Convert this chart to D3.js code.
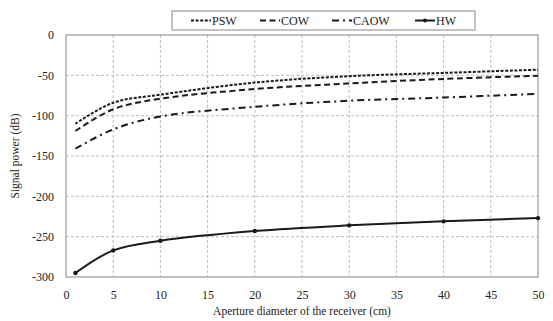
<!DOCTYPE html>
<html>
<head>
<meta charset="utf-8">
<script src="https://d3js.org/d3.v7.min.js"></script>
<style>
  body { margin: 0; background: #fff; }
  text { font-family: "Liberation Serif", "Times New Roman", serif; fill: #222; }
</style>
</head>
<body>
<script>
// Signal power vs. receiver aperture for four wave types
const aperture = [1, 5, 10, 20, 30, 40, 50];
const psw  = [-110, -84, -74, -59, -51, -47, -43];
const cow  = [-119, -92, -79, -67, -60, -54.5, -50.5];
const caow = [-141, -117, -101, -89, -81.5, -77.5, -73];
const hw   = [-295, -267, -255, -243, -236, -231, -227];

const xTicks = [0, 5, 10, 15, 20, 25, 30, 35, 40, 45, 50];
const yTicks = [0, -50, -100, -150, -200, -250, -300];

const width = 553, height = 321;
const margin = { top: 35, right: 15, bottom: 44, left: 66 };

const svg = d3.select("body")
  .append("svg")
  .attr("width", width)
  .attr("height", height);

const x = d3.scaleLinear().domain([0, 50]).range([margin.left, width - margin.right]);
const y = d3.scaleLinear().domain([-300, 0]).range([height - margin.bottom, margin.top]);

// grid
svg.append("g")
  .selectAll("line.v")
  .data(xTicks.slice(1, -1))
  .enter().append("line")
  .attr("x1", d => x(d)).attr("x2", d => x(d))
  .attr("y1", y(0)).attr("y2", y(-300))
  .attr("stroke", "#bbb").attr("stroke-width", 1)
  .attr("stroke-dasharray", "3,2");

svg.append("g")
  .selectAll("line.h")
  .data(yTicks.slice(1, -1))
  .enter().append("line")
  .attr("x1", x(0)).attr("x2", x(50))
  .attr("y1", d => y(d)).attr("y2", d => y(d))
  .attr("stroke", "#bbb").attr("stroke-width", 1)
  .attr("stroke-dasharray", "3,2");

// plot frame
svg.append("rect")
  .attr("x", x(0)).attr("y", y(0))
  .attr("width", x(50) - x(0)).attr("height", y(-300) - y(0))
  .attr("fill", "none").attr("stroke", "#999").attr("stroke-width", 1.2);

// axes
const xAxis = svg.append("g")
  .attr("transform", `translate(0,${y(-300)})`)
  .call(d3.axisBottom(x).tickValues(xTicks).tickSize(0).tickPadding(13));
const yAxis = svg.append("g")
  .attr("transform", `translate(${x(0)},0)`)
  .call(d3.axisLeft(y).tickValues(yTicks).tickSize(0).tickPadding(12)
    .tickFormat(d => d));
[xAxis, yAxis].forEach(g => {
  g.select(".domain").remove();
  g.selectAll("text")
    .style("font-family", "Liberation Serif, serif")
    .style("font-size", "12px")
    .attr("fill", "#222");
});

svg.append("text")
  .attr("x", (x(0) + x(50)) / 2)
  .attr("y", 315)
  .attr("text-anchor", "middle")
  .style("font-size", "11.5px")
  .text("Aperture diameter of the receiver (cm)");

svg.append("text")
  .attr("transform", `translate(19,${(y(0) + y(-300)) / 2}) rotate(-90)`)
  .attr("text-anchor", "middle")
  .style("font-size", "11.5px")
  .text("Signal power (dB)");

// series
const series = [
  { name: "PSW",  values: psw,  dash: "3,1.6" },
  { name: "COW",  values: cow,  dash: "6,3.5" },
  { name: "CAOW", values: caow, dash: "7,4,2,4" },
  { name: "HW",   values: hw,   dash: null }
];

const line = d3.line()
  .x(d => x(d[0]))
  .y(d => y(d[1]))
  .curve(d3.curveCatmullRom.alpha(0.5));

series.forEach(s => {
  svg.append("path")
    .datum(aperture.map((a, i) => [a, s.values[i]]))
    .attr("d", line)
    .attr("fill", "none")
    .attr("stroke", "#1a1a1a")
    .attr("stroke-width", 2)
    .attr("stroke-dasharray", s.dash);
});

svg.append("g")
  .selectAll("circle")
  .data(aperture.map((a, i) => [a, hw[i]]))
  .enter().append("circle")
  .attr("cx", d => x(d[0]))
  .attr("cy", d => y(d[1]))
  .attr("r", 2.2)
  .attr("fill", "#1a1a1a");

// legend
const legend = svg.append("g");
legend.append("rect")
  .attr("x", 172).attr("y", 11)
  .attr("width", 303).attr("height", 19)
  .attr("fill", "#fff").attr("stroke", "#888").attr("stroke-width", 1);

const legendX = [191, 260, 332, 415];
series.forEach((s, i) => {
  const lx = legendX[i];
  legend.append("line")
    .attr("x1", lx).attr("x2", lx + 20)
    .attr("y1", 20.5).attr("y2", 20.5)
    .attr("stroke", "#1a1a1a").attr("stroke-width", 2)
    .attr("stroke-dasharray", s.dash);
  if (!s.dash) {
    legend.append("circle").attr("cx", lx + 10).attr("cy", 20.5).attr("r", 2).attr("fill", "#1a1a1a");
  }
  legend.append("text")
    .attr("x", lx + 21).attr("y", 24.5)
    .style("font-size", "12px")
    .text(s.name);
});
</script>
</body>
</html>
